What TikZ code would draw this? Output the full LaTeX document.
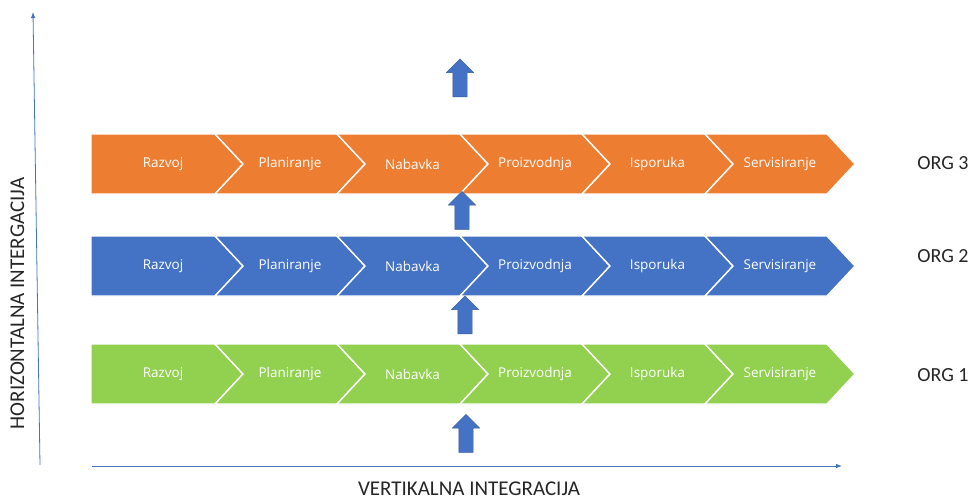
\documentclass[tikz,border=0pt]{standalone}
\usepackage{fontspec}
\setmainfont{Carlito}
\newfontfamily\stepfont{Open Sans}
\usetikzlibrary{arrows.meta,shapes.arrows}
\definecolor{orgorange}{HTML}{ED7D31}
\definecolor{orgblue}{HTML}{4472C4}
\definecolor{orggreen}{HTML}{92D050}
\definecolor{labelgray}{HTML}{262626}
\begin{document}
\begin{tikzpicture}[x=1pt, y=-1pt]
    \tikzset{
        chevron/.style={draw=white, line width=1.4pt, line join=miter},
        steptext/.style={text=white, font=\stepfont\fontsize{13.5}{15}\selectfont},
        orglabel/.style={text=labelgray, font=\fontsize{20}{22}\selectfont},
        axislabel/.style={text=labelgray, inner sep=0.5pt, font=\fontsize{21}{23}\selectfont},
        axis/.style={draw=orgblue, line width=0.8pt, -{Latex[length=6pt,width=4.5pt]}},
        uparrow/.style={single arrow, fill=orgblue, draw=orgblue!80!black, line width=0.4pt,
            rotate=90, minimum height=38pt, minimum width=27pt, inner sep=7pt,
            single arrow head extend=6.5pt, anchor=center}
    }
    \useasboundingbox (0,0) rectangle (972,499);

    % Rows of chevrons (one per organisation)
    \foreach \row/\col/\top/\orgy in {3/orgorange/134/163.5, 2/orgblue/236/256, 1/orggreen/344/375} {
        \pgfmathsetmacro{\bot}{\top+60}
        \pgfmathsetmacro{\mid}{\top+30}
        \foreach \i/\name/\left/\right in {1/Razvoj/91/215, 2/Planiranje/215/337, 3/Nabavka/337/460,
                                            4/Proizvodnja/460/582, 5/Isporuka/582/705, 6/Servisiranje/705/827} {
            \ifnum\i=1
                \fill[\col, chevron] (\left,\top) -- (\right,\top) -- (\right+28,\mid) -- (\right,\bot)
                    -- (\left,\bot) -- cycle;
                \node[steptext] (org\row-\i) at ({(\left+\right)/2+10},\mid) {\name};
            \else
                \fill[\col, chevron] (\left,\top) -- (\right,\top) -- (\right+28,\mid) -- (\right,\bot)
                    -- (\left,\bot) -- (\left+28,\mid) -- cycle;
                \node[steptext] (org\row-\i) at ({(\left+\right)/2+14},\mid) {\name};
            \fi
        }
        \node[orglabel] (org\row) at (943,\orgy) {ORG \row};
    }

    % Block arrows between the rows
    \node[uparrow] (up4) at (460,81.5) {};
    \node[uparrow] (up3) at (462,214) {};
    \node[uparrow] (up2) at (465,318.5) {};
    \node[uparrow] (up1) at (466,437) {};

    % Axes
    \coordinate (yaxis-start) at (40,465);
    \coordinate (yaxis-end) at (33,12);
    \coordinate (xaxis-start) at (92,466);
    \coordinate (xaxis-end) at (842,466);
    \draw[axis] (yaxis-start) -- (yaxis-end);
    \draw[axis] (xaxis-start) -- (xaxis-end);

    \node[axislabel, rotate=90, anchor=base] (hlabel) at (24,303.5) {HORIZONTALNA INTERGACIJA};
    \node[axislabel, anchor=base] (vlabel) at (469,495.5) {VERTIKALNA INTEGRACIJA};
\end{tikzpicture}
\end{document}
